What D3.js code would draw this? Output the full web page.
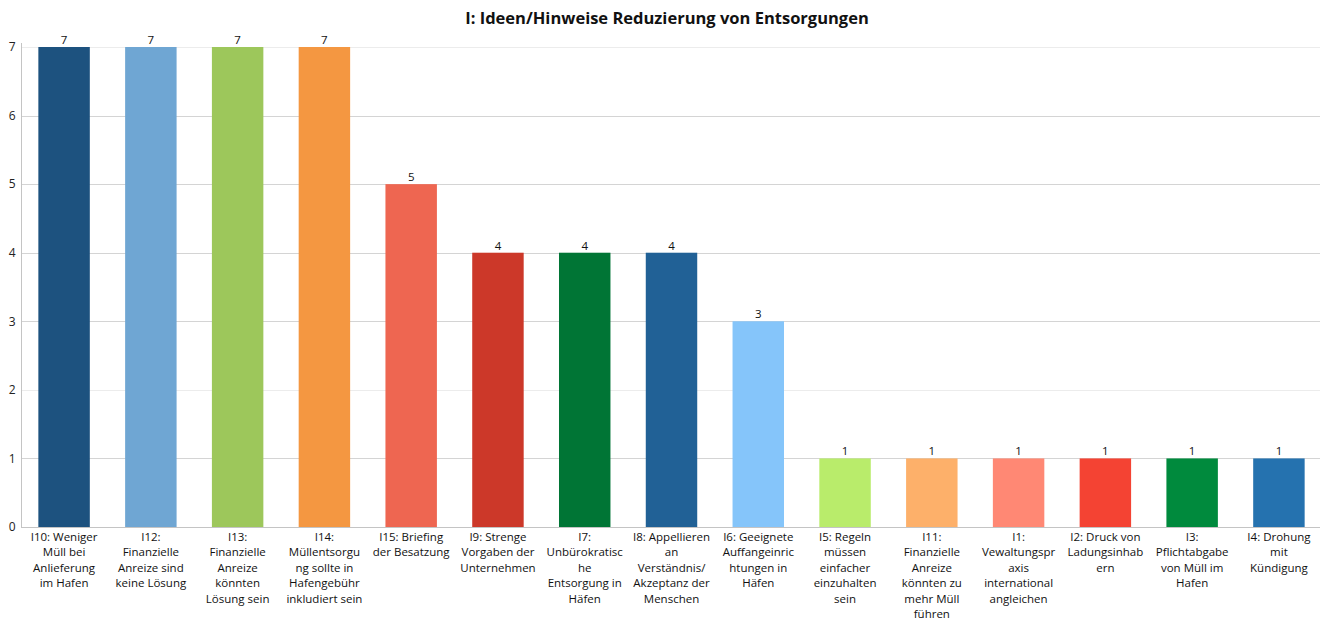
<!DOCTYPE html>
<html>
<head>
<meta charset="utf-8">
<script src="https://cdn.jsdelivr.net/npm/d3@7"></script>
<style>
  html, body { margin: 0; padding: 0; background: #fff; }
  svg { display: block; font-family: "Open Sans", "Noto Sans", sans-serif; }
</style>
</head>
<body>
<svg id="chart" width="1324" height="621"></svg>
<script>
// Survey item codes and their answer counts
const categories = ["I10", "I12", "I13", "I14", "I15", "I9", "I7", "I8", "I6", "I5", "I11", "I1", "I2", "I3", "I4"];
const counts = [7, 7, 7, 7, 5, 4, 4, 4, 3, 1, 1, 1, 1, 1, 1];

// Category labels, already wrapped into lines
const tickLines = [
  ["I10: Weniger", "Müll bei", "Anlieferung", "im Hafen"],
  ["I12:", "Finanzielle", "Anreize sind", "keine Lösung"],
  ["I13:", "Finanzielle", "Anreize", "könnten", "Lösung sein"],
  ["I14:", "Müllentsorgu", "ng sollte in", "Hafengebühr", "inkludiert sein"],
  ["I15: Briefing", "der Besatzung"],
  ["I9: Strenge", "Vorgaben der", "Unternehmen"],
  ["I7:", "Unbürokratisc", "he", "Entsorgung in", "Häfen"],
  ["I8: Appellieren", "an", "Verständnis/", "Akzeptanz der", "Menschen"],
  ["I6: Geeignete", "Auffangeinric", "htungen in", "Häfen"],
  ["I5: Regeln", "müssen", "einfacher", "einzuhalten", "sein"],
  ["I11:", "Finanzielle", "Anreize", "könnten zu", "mehr Müll", "führen"],
  ["I1:", "Vewaltungspr", "axis", "international", "angleichen"],
  ["I2: Druck von", "Ladungsinhab", "ern"],
  ["I3:", "Pflichtabgabe", "von Müll im", "Hafen"],
  ["I4: Drohung", "mit", "Kündigung"]
];

const barColors = ["#1d527f", "#6fa6d3", "#9dc75b", "#f49741", "#ee6651", "#cc3829",
                   "#007535", "#216196", "#85c5fa", "#b9ec6b", "#fdb06a", "#ff8874",
                   "#f44333", "#008a3d", "#2572af"];

const yTicks = [0, 1, 2, 3, 4, 5, 6, 7];
const title = "I: Ideen/Hinweise Reduzierung von Entsorgungen";

const svg = d3.select("#chart");
const plotLeft = 21, plotRight = 1322, plotTop = 47, plotBottom = 527;

const x = d3.scaleBand()
  .domain(categories)
  .range([plotLeft, plotRight])
  .paddingInner(0.407)
  .paddingOuter(0.2);

const y = d3.scaleLinear().domain([0, 7]).range([plotBottom, plotTop]);

// Title
svg.append("text")
  .attr("x", 667).attr("y", 24)
  .attr("text-anchor", "middle")
  .attr("font-size", 16.5).attr("font-weight", "bold")
  .attr("fill", "#111")
  .text(title);

// Horizontal gridlines
svg.append("g")
  .selectAll("line")
  .data(yTicks.filter(d => d > 0))
  .join("line")
  .attr("x1", plotLeft).attr("x2", 1320)
  .attr("y1", d => Math.round(y(d)) + 0.5).attr("y2", d => Math.round(y(d)) + 0.5)
  .attr("stroke", d => (d === 7 || d === 2) ? "#ececec" : "#d4d4d4")
  .attr("stroke-width", 1);

// Y axis
const yAxis = svg.append("g")
  .attr("transform", `translate(${plotLeft + 0.5},0)`)
  .call(d3.axisLeft(y).tickValues(yTicks).tickSize(0).tickPadding(6).tickFormat(d3.format("d")));
yAxis.select(".domain").attr("stroke", "#c4c4c4").attr("d", `M0,${plotTop - 4}V${plotBottom}`);
yAxis.selectAll("text").attr("font-size", 12).attr("fill", "#222")
  .attr("font-family", "'Open Sans', 'Noto Sans', sans-serif");

// Bars
svg.append("g")
  .selectAll("rect")
  .data(categories)
  .join("rect")
  .attr("x", d => x(d))
  .attr("width", x.bandwidth())
  .attr("y", (d, i) => y(counts[i]))
  .attr("height", (d, i) => y(0) - y(counts[i]))
  .attr("fill", (d, i) => barColors[i]);

// Value labels above bars
svg.append("g")
  .selectAll("text")
  .data(categories)
  .join("text")
  .attr("x", d => x(d) + x.bandwidth() / 2)
  .attr("y", (d, i) => y(counts[i]) - 3)
  .attr("text-anchor", "middle")
  .attr("font-size", 11.5)
  .attr("fill", "#111")
  .text((d, i) => counts[i]);

// X axis baseline
svg.append("line")
  .attr("x1", plotLeft).attr("x2", 1320)
  .attr("y1", plotBottom + 0.5).attr("y2", plotBottom + 0.5)
  .attr("stroke", "#c4c4c4");

// Category labels under bars
const labels = svg.append("g")
  .selectAll("text")
  .data(categories)
  .join("text")
  .attr("text-anchor", "middle")
  .attr("font-size", 11.5)
  .attr("fill", "#111")
  .attr("transform", d => `translate(${x(d) + x.bandwidth() / 2},${plotBottom + 14})`);

labels.selectAll("tspan")
  .data((d, i) => tickLines[i])
  .join("tspan")
  .attr("x", 0)
  .attr("y", (d, j) => j * 15.4)
  .text(d => d);
</script>
</body>
</html>
